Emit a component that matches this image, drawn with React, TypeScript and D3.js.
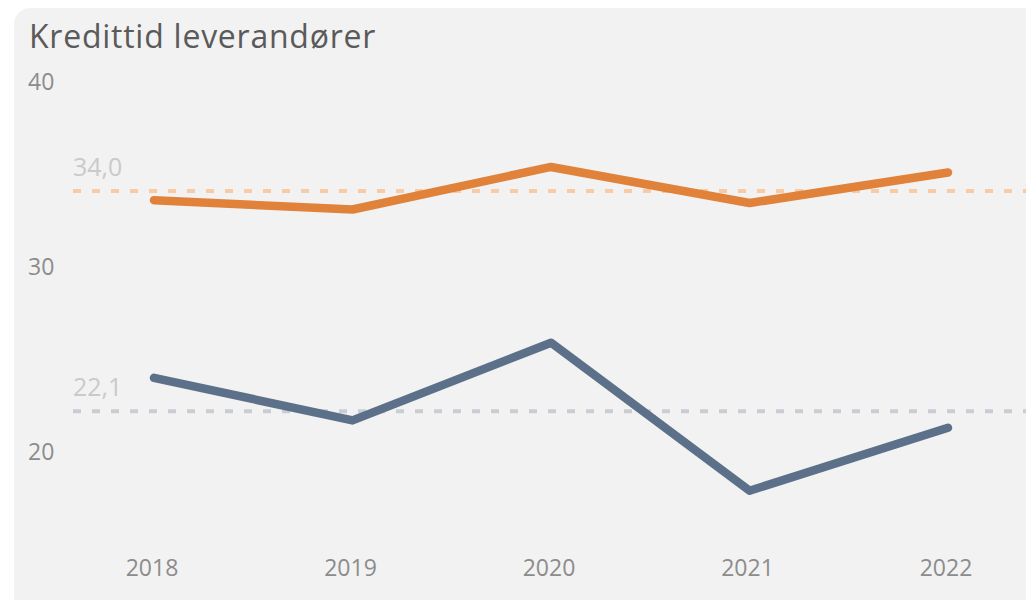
import * as d3 from "d3";

const years = ["2018", "2019", "2020", "2021", "2022"];
const orangeValues = [33.5, 33.0, 35.3, 33.35, 35.0];
const blueValues = [23.9, 21.6, 25.8, 17.8, 21.2];
const yTicks = [20, 30, 40];
const refLines = [
  { value: 34.0, label: "34,0", color: "#f6cba6" },
  { value: 22.1, label: "22,1", color: "#c9ced4" },
];

const WIDTH = 1026;
const HEIGHT = 600;
const FONT = "'Open Sans', 'DejaVu Sans', sans-serif";

const App = () => {
  const xScale = d3.scalePoint().domain(years).range([154, 948]);
  const yScale = d3.scaleLinear().domain([20, 40]).range([450, 80]);

  const line = d3
    .line<number>()
    .x((_, i) => xScale(years[i]) ?? 0)
    .y((d) => yScale(d));

  return (
    <svg
      width={WIDTH}
      height={HEIGHT}
      style={{ position: "fixed", top: 0, left: 0, fontFamily: FONT }}
    >
      <rect width={WIDTH} height={HEIGHT} fill="#ffffff" />
      <rect x={14} y={8} width={WIDTH + 20} height={HEIGHT + 20} rx={16} fill="#f2f2f2" />

      <text x={29} y={48} fontSize={32} fill="#5a5a5a" letterSpacing={0.75}>
        Kredittid leverandører
      </text>

      {yTicks.map((t) => (
        <text
          key={t}
          x={28}
          y={yScale(t) + 1}
          fontSize={23}
          fill="#8c8c8c"
          dominantBaseline="central"
        >
          {t}
        </text>
      ))}

      {refLines.map((r) => (
        <g key={r.label}>
          <line
            x1={73}
            x2={WIDTH}
            y1={yScale(r.value)}
            y2={yScale(r.value)}
            stroke={r.color}
            strokeWidth={4}
            strokeDasharray="8 11"
          />
          <text x={73} y={yScale(r.value) - 15} fontSize={25} fill="#cacaca">
            {r.label}
          </text>
        </g>
      ))}

      <path
        d={line(orangeValues) ?? ""}
        fill="none"
        stroke="#e0823a"
        strokeWidth={8.5}
        strokeLinecap="round"
        strokeLinejoin="round"
      />
      <path
        d={line(blueValues) ?? ""}
        fill="none"
        stroke="#5c7189"
        strokeWidth={8.5}
        strokeLinecap="round"
        strokeLinejoin="round"
      />

      {years.map((y) => (
        <text
          key={y}
          x={(xScale(y) ?? 0) - 2}
          y={567}
          fontSize={23}
          fill="#8c8c8c"
          textAnchor="middle"
          dominantBaseline="central"
        >
          {y}
        </text>
      ))}
    </svg>
  );
};

export default App;
